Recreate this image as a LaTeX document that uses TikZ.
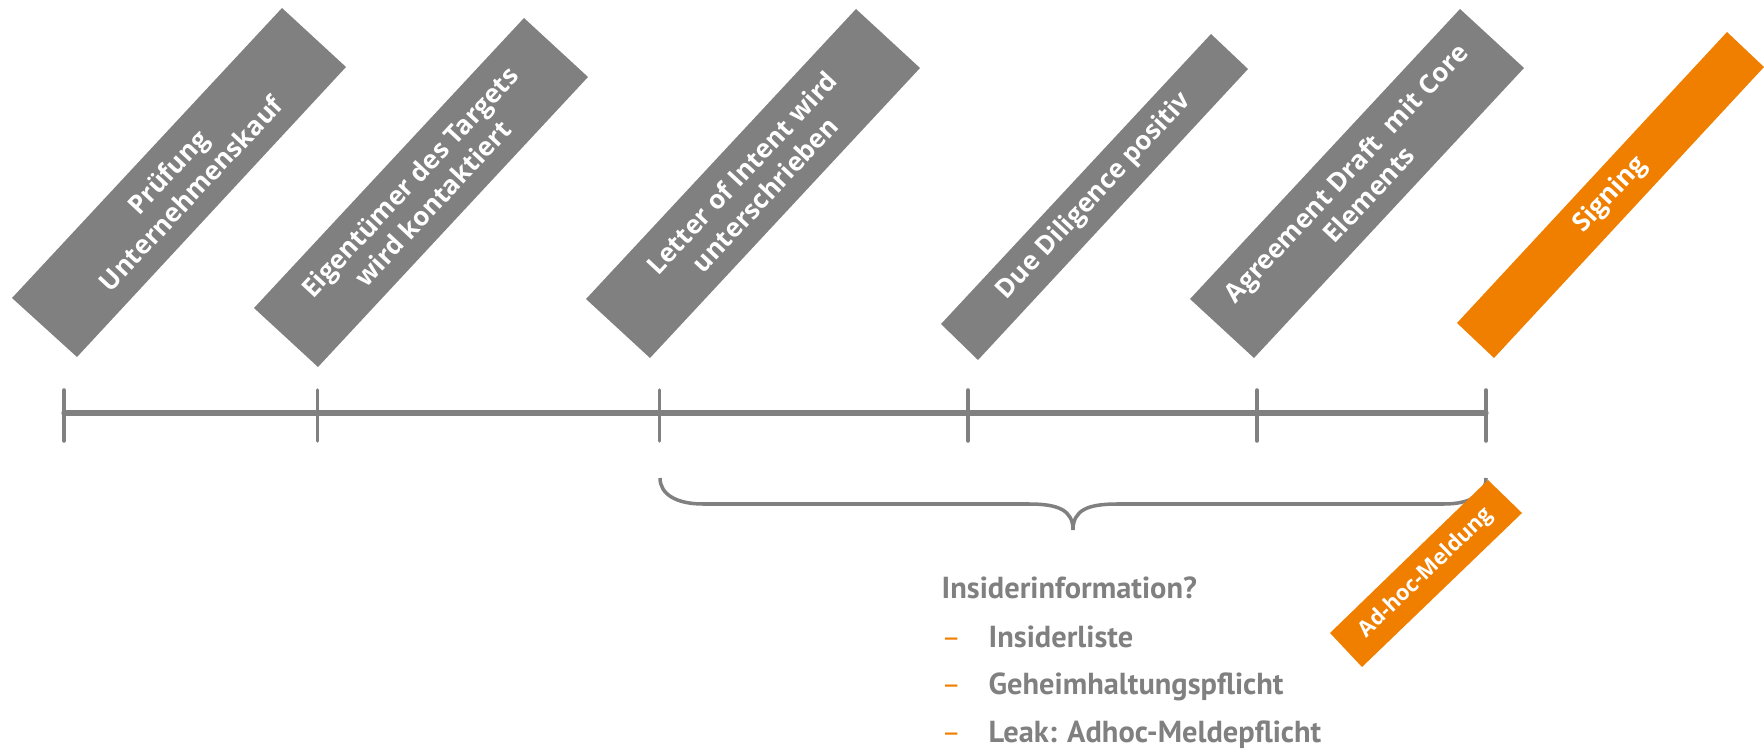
\documentclass[tikz,border=0pt]{standalone}
\usepackage{fontspec}
\setmainfont{Open Sans}
\newfontfamily\listfont{PT Sans}
\usepackage{tkz-euclide}
\usetikzlibrary{calc}
\definecolor{BoxClr}{RGB}{128,128,128}
\definecolor{SignClr}{RGB}{240,127,0}
\tikzset{boxtext/.style={text=white,font=\bfseries\fontsize{7.4}{9}\selectfont,
    align=center,inner sep=0pt,rotate=#1},
  boxtext/.default=47,
  listtext/.style={text=BoxClr,font=\listfont\bfseries\fontsize{8.65}{10}\selectfont,
    anchor=base west,inner sep=0pt}}

\begin{document}
\begin{tikzpicture}
\useasboundingbox (0,0) rectangle (17.64,7.5);
\tkzSetUpLine[line width=1pt,color=BoxClr]

\tkzDefPoints{0.12/4.52/A1,2.82/7.42/B1,3.46/6.83/C1,0.77/3.93/D1,
  2.54/4.42/A2,5.24/7.32/B2,5.88/6.73/C2,3.18/3.83/D2,
  5.86/4.51/A3,8.56/7.41/B3,9.20/6.82/C3,6.50/3.92/D3,
  9.41/4.26/A4,12.11/7.16/B4,12.48/6.81/C4,9.78/3.90/D4,
  11.90/4.51/A5,14.60/7.41/B5,15.24/6.82/C5,12.54/3.92/D5,
  14.57/4.27/A6,17.27/7.18/B6,17.64/6.83/C6,14.94/3.92/D6,
  13.30/1.17/A7,14.88/2.70/B7,15.22/2.37/C7,13.62/0.83/D7}
\tkzDefPoints{0.64/3.37/T1,14.86/3.37/T2,
  0.64/3.60/U1,3.175/3.60/U2,6.595/3.60/U3,9.68/3.60/U4,12.57/3.60/U5,14.86/3.60/U6,
  0.64/3.09/V1,3.175/3.09/V2,6.595/3.09/V3,9.68/3.09/V4,12.57/3.09/V5,14.86/3.09/V6,
  6.60/2.72/G1,14.86/2.72/G2,10.73/2.20/M}

% steps
\tkzFillPolygon[fill=BoxClr](A1,B1,C1,D1)
\tkzFillPolygon[fill=BoxClr](A2,B2,C2,D2)
\tkzFillPolygon[fill=BoxClr](A3,B3,C3,D3)
\tkzFillPolygon[fill=BoxClr](A4,B4,C4,D4)
\tkzFillPolygon[fill=BoxClr](A5,B5,C5,D5)
\tkzFillPolygon[fill=SignClr](A6,B6,C6,D6)

\node[boxtext] (pruefung) at ($(A1)!.5!(C1)$) {Prüfung\\Unternehmenskauf};
\node[boxtext] (eigentuemer) at ($(A2)!.5!(C2)$) {Eigentümer des Targets\\wird kontaktiert};
\node[boxtext] (loi) at ($(A3)!.5!(C3)$) {Letter of Intent wird\\unterschrieben};
\node[boxtext] (duedil) at ($(A4)!.5!(C4)$) {Due Diligence positiv};
\node[boxtext] (agreement) at ($(A5)!.5!(C5)$) {Agreement Draft\ \ mit Core\\Elements};
\node[boxtext] (signing) at ($(A6)!.5!(C6)$) {Signing};

% timeline
\tkzDrawSegments[line width=1.5pt](T1,T2)
\tkzDrawSegments(U1,V1 U2,V2 U3,V3 U4,V4 U5,V5 U6,V6)

% brace
\draw[BoxClr,line width=1pt] (G1) .. controls (6.60,2.56) and (6.76,2.46) .. (7.03,2.46)
  -- (10.29,2.46) .. controls (10.58,2.46) and (10.73,2.40) .. (M)
  .. controls (10.73,2.40) and (10.88,2.46) .. (11.17,2.46)
  -- (14.44,2.46) .. controls (14.71,2.46) and (14.86,2.56) .. (G2);

\tkzFillPolygon[fill=SignClr](A7,B7,C7,D7)
\node[boxtext=44,font=\bfseries\fontsize{6.2}{8}\selectfont] (adhoc) at ($(A7)!.5!(C7)$) {Ad-hoc-Meldung};

% list
\node[listtext] (insider) at (9.41,1.52) {Insiderinformation?};
\node[listtext] (liste) at (9.88,1.03) {Insiderliste};
\node[listtext] (geheim) at (9.88,0.56) {Geheimhaltungspflicht};
\node[listtext] (leak) at (9.88,0.08) {Leak: Adhoc-Meldepflicht};
\node[listtext,text=SignClr,font=\listfont\fontsize{8.3}{10}\selectfont] (dash1) at (9.41,1.03) {–};
\node[listtext,text=SignClr,font=\listfont\fontsize{8.3}{10}\selectfont] (dash2) at (9.41,0.56) {–};
\node[listtext,text=SignClr,font=\listfont\fontsize{8.3}{10}\selectfont] (dash3) at (9.41,0.08) {–};

\end{tikzpicture}
\end{document}
